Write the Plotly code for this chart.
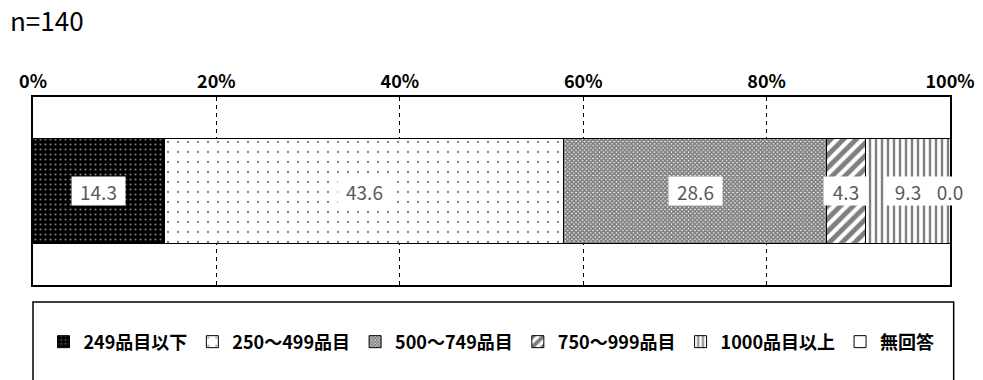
import plotly.graph_objects as go

categories = ["n=140"]
series_names = ["249品目以下", "250～499品目", "500～749品目", "750～999品目", "1000品目以上", "無回答"]
values = [14.3, 43.6, 28.6, 4.3, 9.3, 0.0]
tick_vals = [0, 20, 40, 60, 80, 100]
tick_text = ["0%", "20%", "40%", "60%", "80%", "100%"]

patterns = [
    dict(shape=".", bgcolor="black", fgcolor="white", size=5, solidity=0.15),
    dict(shape=".", bgcolor="white", fgcolor="black", size=10, solidity=0.04),
    dict(shape="x", bgcolor="white", fgcolor="black", size=3, solidity=0.8),
    dict(shape="/", bgcolor="white", fgcolor="black", size=9, solidity=0.55),
    dict(shape="|", bgcolor="white", fgcolor="black", size=6, solidity=0.4),
    dict(shape="", bgcolor="white", fgcolor="black"),
]

FONT = "Noto Sans CJK JP"
fig = go.Figure()
for name, v, p in zip(series_names, values, patterns):
    fig.add_trace(go.Bar(
        x=[v], y=categories, name=name, orientation="h", width=0.56,
        marker=dict(color="white", line=dict(color="black", width=1), pattern=p),
    ))

# data labels
cum = 0
for v in values:
    center = min(cum + v / 2, 100)
    txt = f"{v:.1f}"
    fig.add_annotation(x=center, y=categories[0], text=txt, showarrow=False,
                       bgcolor="white", borderpad=2, height=24, width=9 * len(txt) + 13,
                       font=dict(family=FONT, size=19, color="#595959"))
    cum += v

# legend frame
fig.add_shape(type="rect", xref="paper", yref="paper", x0=0.0, x1=1.004, y0=-0.09, y1=-0.8,
              line=dict(color="black", width=1.5), fillcolor="rgba(0,0,0,0)")

fig.update_layout(
    barmode="stack",
    width=983, height=380,
    margin=dict(l=33, r=33, t=97, b=95, autoexpand=False),
    plot_bgcolor="white", paper_bgcolor="white",
    font=dict(family=FONT, color="black"),
    title=dict(text="n=140", x=0.0, xanchor="left", y=0.942, yanchor="middle",
               pad=dict(l=10), font=dict(family=FONT, size=26, color="black")),
    showlegend=True,
    legend=dict(orientation="h", x=0.5, xanchor="center", y=-0.303, yanchor="middle",
                font=dict(family=FONT, size=18, color="black", weight="bold"),
                itemwidth=30, traceorder="normal", bgcolor="rgba(0,0,0,0)"),
    xaxis=dict(range=[0, 100], side="top", tickvals=tick_vals, ticktext=tick_text,
               showgrid=True, gridcolor="black", griddash="4px,4px", gridwidth=1,
               showline=True, linecolor="black", linewidth=1.5, mirror=True,
               ticks="", zeroline=False, fixedrange=True, automargin=False,
               tickfont=dict(family=FONT, size=18, color="black", weight="bold")),
    yaxis=dict(range=[-0.5, 0.5], showticklabels=False, showgrid=False,
               showline=True, linecolor="black", linewidth=1.5, mirror=True,
               ticks="", zeroline=False, fixedrange=True, automargin=False),
)

fig.write_html("out.html", config={"displayModeBar": False},
               post_script="document.body.style.margin='0px';document.body.style.overflow='hidden';")
